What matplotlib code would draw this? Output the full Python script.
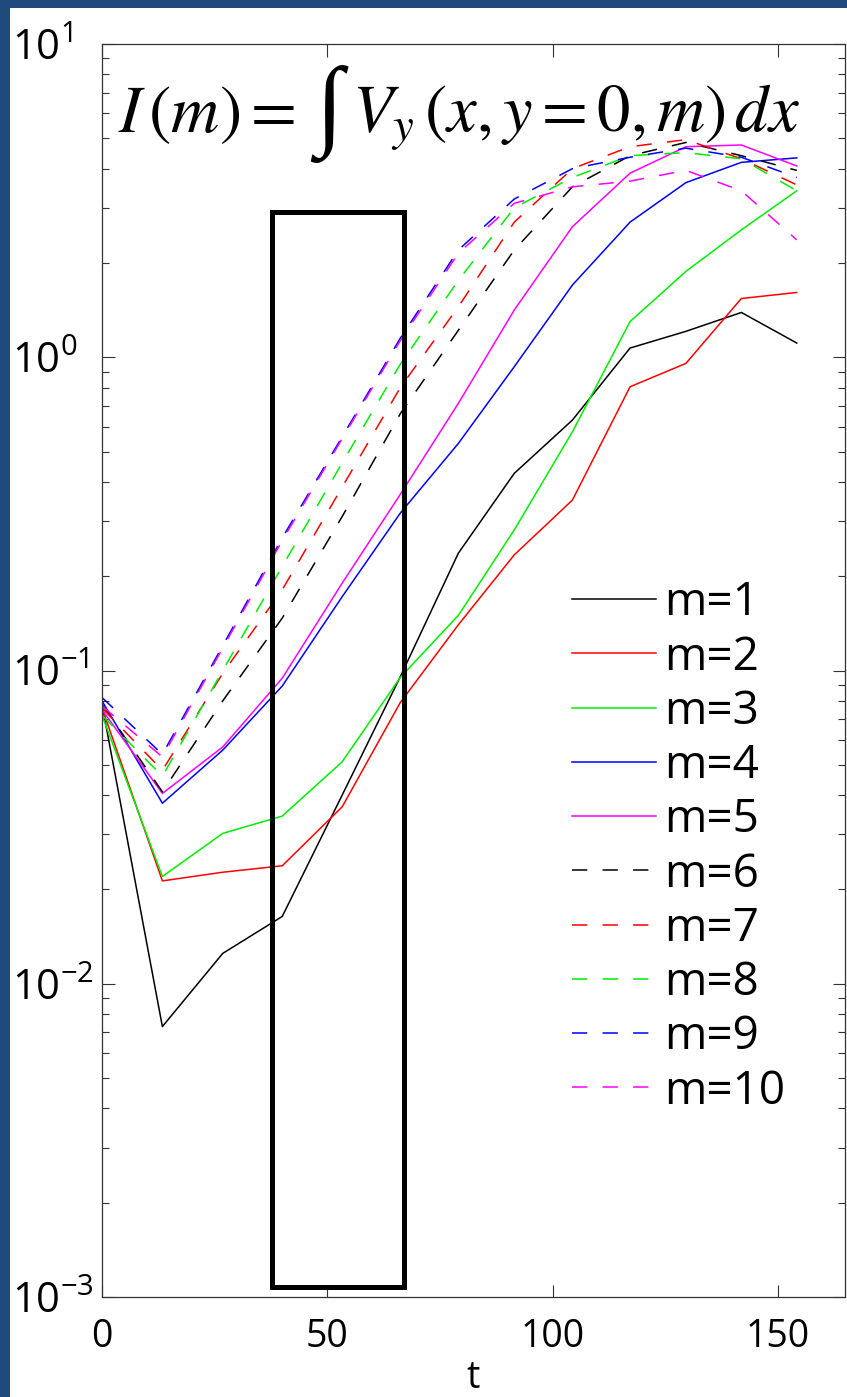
import matplotlib
matplotlib.use("Agg")
import matplotlib.pyplot as plt
from matplotlib.patches import Rectangle
from matplotlib.ticker import LogLocator, FixedLocator, NullFormatter

# ---------------- data ----------------
t = [0, 13.4, 26.8, 40.0, 53.3, 66.2, 79.1, 91.5, 104.4, 117.2, 129.6, 141.9, 154.2]

m1 = [0.078, 0.0073, 0.0125, 0.0164, 0.040, 0.0955, 0.237, 0.426, 0.63, 1.07, 1.21, 1.39, 1.11]
m2 = [0.076, 0.0213, 0.0227, 0.0238, 0.0367, 0.079, 0.140, 0.234, 0.35, 0.805, 0.956, 1.54, 1.61]
m3 = [0.072, 0.022, 0.0302, 0.0343, 0.0511, 0.095, 0.150, 0.281, 0.578, 1.30, 1.88, 2.55, 3.40]
m4 = [0.080, 0.0377, 0.0557, 0.0892, 0.172, 0.318, 0.531, 0.933, 1.70, 2.70, 3.61, 4.19, 4.33]
m5 = [0.075, 0.0405, 0.057, 0.0945, 0.19, 0.365, 0.713, 1.415, 2.61, 3.87, 4.70, 4.76, 4.08]
m6 = [0.078, 0.041, 0.080, 0.147, 0.31, 0.66, 1.22, 2.2, 3.5, 4.4, 4.85, 4.4, 3.95]
m7 = [0.076, 0.048, 0.098, 0.181, 0.385, 0.80, 1.45, 2.7, 4.0, 4.7, 4.95, 4.3, 3.55]
m8 = [0.072, 0.046, 0.100, 0.215, 0.46, 0.95, 1.76, 3.0, 3.75, 4.4, 4.5, 4.3, 3.4]
m9 = [0.082, 0.054, 0.120, 0.265, 0.557, 1.15, 2.2, 3.2, 4.0, 4.35, 4.65, 4.35, 3.75]
m10 = [0.077, 0.053, 0.118, 0.26, 0.55, 1.13, 2.15, 3.1, 3.5, 3.65, 3.95, 3.4, 2.37]

series = [m1, m2, m3, m4, m5, m6, m7, m8, m9, m10]
labels = ["m=%d" % k for k in range(1, 11)]
colors = ["#000000", "#ff0000", "#00ee00", "#0000ff", "#ff00ff",
          "#000000", "#ff0000", "#00ee00", "#0000ff", "#ff00ff"]
styles = ["-"] * 5 + ["--"] * 5

# highlight box (data coordinates)
box_t = (37.8, 67.1)
box_I = (1.08e-3, 2.9)

xticks = [0, 50, 100, 150]
yticks = [1e-3, 1e-2, 1e-1, 1e0, 1e1]
ytick_labels = [r"$10^{-3}$", r"$10^{-2}$", r"$10^{-1}$", r"$10^{0}$", r"$10^{1}$"]

# ---------------- figure ----------------
W, H, DPI = 847, 1397, 100
plt.rcParams["font.family"] = ["Open Sans", "DejaVu Sans"]
plt.rcParams["mathtext.fontset"] = "custom"
plt.rcParams["mathtext.rm"] = "Open Sans"
plt.rcParams["mathtext.it"] = "Open Sans:italic"
plt.rcParams["mathtext.bf"] = "Open Sans:bold"
plt.rcParams["mathtext.sf"] = "Open Sans"

fig = plt.figure(figsize=(W / DPI, H / DPI), dpi=DPI, facecolor="white")
# blue strips on the left and top
fig.add_artist(Rectangle((0, 0), 10 / W, 1, transform=fig.transFigure,
                         facecolor="#1f4a7e", edgecolor="none", zorder=-10))
fig.add_artist(Rectangle((0, 1 - 8 / H), 1, 8 / H, transform=fig.transFigure,
                         facecolor="#1f4a7e", edgecolor="none", zorder=-10))

ax = fig.add_axes([102 / W, 100 / H, 743 / W, 1253 / H])
ax.set_facecolor("white")

for y, lab, c, ls in zip(series, labels, colors, styles):
    kw = dict(color=c, lw=1.1, label=lab)
    if ls == "--":
        kw["dashes"] = (10, 10)
    ax.plot(t, y, **kw)

ax.set_yscale("log")
ax.set_xlim(0, 164.9)
ax.set_ylim(1e-3, 1e1)

ax.add_patch(Rectangle((box_t[0], box_I[0]), box_t[1] - box_t[0], box_I[1] - box_I[0],
                       fill=False, edgecolor="black", lw=3.6, zorder=5))

ax.xaxis.set_major_locator(FixedLocator(xticks))
ax.set_xticklabels([str(v) for v in xticks])
ax.yaxis.set_major_locator(FixedLocator(yticks))
ax.set_yticklabels(ytick_labels)
ax.yaxis.set_minor_locator(LogLocator(base=10, subs=range(2, 10)))
ax.yaxis.set_minor_formatter(NullFormatter())

ax.tick_params(axis="both", which="major", direction="in", length=9, width=0.8,
               color="#333333", top=True, right=True, labelsize=27, pad=15)
ax.tick_params(axis="y", which="major", pad=65, labelsize=30)
ax.tick_params(axis="y", which="minor", direction="in", length=5, width=0.8,
               color="#333333", left=True, right=True)
for lbl in ax.get_yticklabels():
    lbl.set_horizontalalignment("left")
for s in ax.spines.values():
    s.set_color("#333333")
    s.set_linewidth(0.9)

ax.set_xlabel("t", fontsize=27, labelpad=2)

# formula in Times-like math font
def figxy(px, py):
    return px / W, 1 - py / H

fkw = dict(transform=fig.transFigure, color="black", zorder=6)
fig.text(*figxy(118, 132), r"$I\,(m) =$", fontsize=48, ha="left", va="baseline",
         math_fontfamily="stix", **fkw)
fig.text(*figxy(329, 114), "\u222b", fontsize=72, ha="center", va="center",
         family=["Liberation Serif", "DejaVu Serif"], **fkw)
fig.text(*figxy(352, 132), r"$V_y\,(x, y = 0, m)\,dx$", fontsize=48, ha="left",
         va="baseline", math_fontfamily="stix", **fkw)

leg = ax.legend(loc="upper left", bbox_to_anchor=(0.633, 0.572), frameon=False,
                fontsize=33, handlelength=1.83, handletextpad=0.17, labelspacing=0.18,
                borderpad=0, borderaxespad=0)

fig.savefig("out.png", dpi=DPI, facecolor=fig.get_facecolor())
